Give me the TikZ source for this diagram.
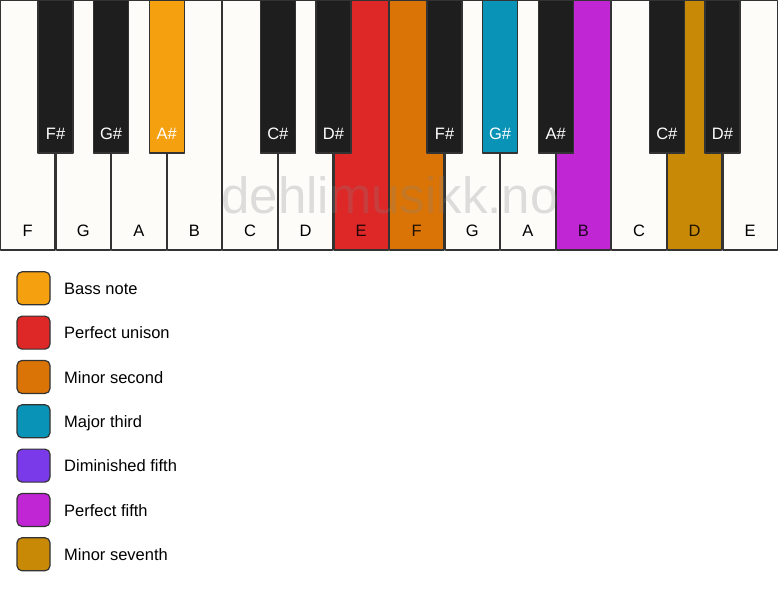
\documentclass[tikz,border=0pt]{standalone}
\usepackage{fontspec}
\setmainfont{Liberation Sans}
\definecolor{keywhite}{HTML}{FDFCF9}
\definecolor{keyblack}{HTML}{1E1E1E}
\definecolor{keyline}{HTML}{333333}
\definecolor{bass}{HTML}{F5A00F}
\definecolor{unison}{HTML}{DE2828}
\definecolor{minsecond}{HTML}{DB7406}
\definecolor{majthird}{HTML}{0993B6}
\definecolor{dimfifth}{HTML}{7A3AEA}
\definecolor{perffifth}{HTML}{C026D3}
\definecolor{minseventh}{HTML}{C88A06}
\tikzset{
  keyedge/.style={draw=keyline, line width=1.2pt},
  swatch/.style={draw=keyline, line width=1.2pt, rounded corners=5pt, minimum size=33pt, inner sep=0pt},
  keyname/.style={font=\fontsize{16.5}{19}\selectfont, anchor=base, inner sep=0pt}
}
\begin{document}
\begin{tikzpicture}[x=1pt, y=-1pt, line join=round]
	\def\w{55.57}
	\def\h{250}
	\def\bw{35}
	\def\bh{153}
	\useasboundingbox (0,0) rectangle (778,594);
	\fill[white] (0,0) rectangle (778,594);
	% white keys
	\foreach \n/\k/\c/\o in {1/F/keywhite/1, 2/G/keywhite/1, 3/A/keywhite/1, 4/B/keywhite/1,
		5/C/keywhite/1, 6/D/keywhite/1, 7/E/unison/0.85, 8/F/minsecond/0.85, 9/G/keywhite/1,
		10/A/keywhite/1, 11/B/perffifth/0.85, 12/C/keywhite/1, 13/D/minseventh/0.85, 14/E/keywhite/1}
	{
	\draw[keyedge, fill=\c] ({(\n-1)*\w+0.6},0.6) rectangle ({\n*\w-0.6},\h);
	\node[keyname, text opacity=\o] (w\n) at ({(\n-0.5)*\w},236) {\k};
	}
	% black keys
	\foreach \n/\k/\c in {1/F\#/keyblack, 2/G\#/keyblack, 3/A\#/bass, 5/C\#/keyblack, 6/D\#/keyblack,
		8/F\#/keyblack, 9/G\#/majthird, 10/A\#/keyblack, 12/C\#/keyblack, 13/D\#/keyblack}
	{
	\draw[keyedge, fill=\c] ({\n*\w-\bw/2},0.6) rectangle ({\n*\w+\bw/2},\bh);
	\node[keyname, text=white] (b\n) at ({\n*\w},139) {\k};
	}
	% watermark
	\node[anchor=base, inner sep=0pt, font=\fontsize{51}{53}\selectfont, text=gray, text opacity=0.25] (mark) at (390,213) {dehlimusikk.no};
	% legend
	\foreach \i/\c/\t in {0/bass/Bass note, 1/unison/Perfect unison, 2/minsecond/Minor second,
		3/majthird/Major third, 4/dimfifth/Diminished fifth, 5/perffifth/Perfect fifth, 6/minseventh/Minor seventh}
	{
	\node[swatch, fill=\c] (sw\i) at (33.5,{288.3+\i*44.33}) {};
	\node[keyname, anchor=base west] (lg\i) at (64,{294.5+\i*44.33}) {\t};
	}
\end{tikzpicture}
\end{document}
